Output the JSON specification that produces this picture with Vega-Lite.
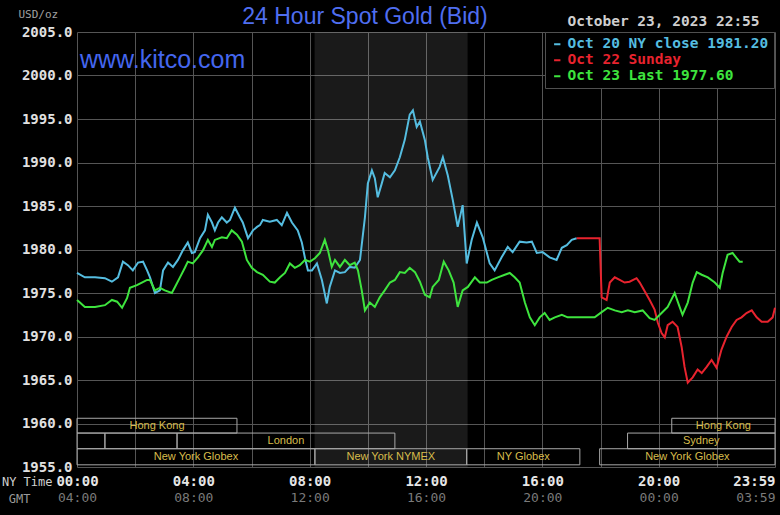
{
  "$schema": "https://vega.github.io/schema/vega-lite/v6.json",
  "width": 698,
  "height": 435,
  "autosize": "none",
  "padding": {"left": 77, "top": 32, "right": 5, "bottom": 48},
  "background": "#000000",
  "config": {
    "view": {"stroke": null},
    "axis": {"domain": false, "ticks": false, "gridColor": "#555555", "gridWidth": 1, "gridOpacity": 1}
  },
  "title": {
    "text": "24 Hour Spot Gold (Bid)",
    "font": "Liberation Sans",
    "fontSize": 23,
    "fontWeight": "normal",
    "color": "#4f6ef0",
    "anchor": "middle",
    "dx": -61,
    "dy": 27,
    "offset": 6
  },
  "datasets": {
    "prices": [
      {"s":"Oct 20","h":0.0,"p":1977.3},{"s":"Oct 20","h":0.27,"p":1976.8},{"s":"Oct 20","h":0.62,"p":1976.8},{"s":"Oct 20","h":0.96,"p":1976.7},{"s":"Oct 20","h":1.2,"p":1976.3},{"s":"Oct 20","h":1.41,"p":1976.8},{"s":"Oct 20","h":1.58,"p":1978.6},{"s":"Oct 20","h":1.75,"p":1978.2},{"s":"Oct 20","h":1.92,"p":1977.6},{"s":"Oct 20","h":2.1,"p":1978.5},{"s":"Oct 20","h":2.27,"p":1978.6},{"s":"Oct 20","h":2.41,"p":1977.6},{"s":"Oct 20","h":2.51,"p":1976.8},{"s":"Oct 20","h":2.68,"p":1975.0},{"s":"Oct 20","h":2.85,"p":1975.3},{"s":"Oct 20","h":2.96,"p":1977.6},{"s":"Oct 20","h":3.13,"p":1978.5},{"s":"Oct 20","h":3.3,"p":1978.0},{"s":"Oct 20","h":3.47,"p":1978.8},{"s":"Oct 20","h":3.64,"p":1979.9},{"s":"Oct 20","h":3.81,"p":1980.8},{"s":"Oct 20","h":3.95,"p":1979.6},{"s":"Oct 20","h":4.05,"p":1979.7},{"s":"Oct 20","h":4.23,"p":1981.3},{"s":"Oct 20","h":4.4,"p":1982.2},{"s":"Oct 20","h":4.5,"p":1984.0},{"s":"Oct 20","h":4.64,"p":1983.1},{"s":"Oct 20","h":4.74,"p":1982.2},{"s":"Oct 20","h":4.85,"p":1983.1},{"s":"Oct 20","h":4.98,"p":1983.7},{"s":"Oct 20","h":5.15,"p":1983.1},{"s":"Oct 20","h":5.26,"p":1983.4},{"s":"Oct 20","h":5.43,"p":1984.8},{"s":"Oct 20","h":5.6,"p":1983.7},{"s":"Oct 20","h":5.7,"p":1983.1},{"s":"Oct 20","h":5.88,"p":1981.3},{"s":"Oct 20","h":6.05,"p":1982.2},{"s":"Oct 20","h":6.19,"p":1982.6},{"s":"Oct 20","h":6.29,"p":1982.8},{"s":"Oct 20","h":6.39,"p":1983.4},{"s":"Oct 20","h":6.63,"p":1983.2},{"s":"Oct 20","h":6.87,"p":1983.4},{"s":"Oct 20","h":7.04,"p":1982.8},{"s":"Oct 20","h":7.22,"p":1984.2},{"s":"Oct 20","h":7.39,"p":1983.1},{"s":"Oct 20","h":7.59,"p":1982.2},{"s":"Oct 20","h":7.73,"p":1980.8},{"s":"Oct 20","h":7.84,"p":1979.0},{"s":"Oct 20","h":7.94,"p":1977.6},{"s":"Oct 20","h":8.08,"p":1977.6},{"s":"Oct 20","h":8.25,"p":1978.4},{"s":"Oct 20","h":8.42,"p":1976.5},{"s":"Oct 20","h":8.59,"p":1973.8},{"s":"Oct 20","h":8.69,"p":1975.7},{"s":"Oct 20","h":8.87,"p":1977.6},{"s":"Oct 20","h":9.04,"p":1977.3},{"s":"Oct 20","h":9.21,"p":1977.4},{"s":"Oct 20","h":9.38,"p":1978.0},{"s":"Oct 20","h":9.55,"p":1977.9},{"s":"Oct 20","h":9.73,"p":1978.8},{"s":"Oct 20","h":9.9,"p":1983.7},{"s":"Oct 20","h":10.0,"p":1987.6},{"s":"Oct 20","h":10.14,"p":1989.1},{"s":"Oct 20","h":10.24,"p":1988.2},{"s":"Oct 20","h":10.34,"p":1986.0},{"s":"Oct 20","h":10.48,"p":1987.6},{"s":"Oct 20","h":10.58,"p":1988.8},{"s":"Oct 20","h":10.76,"p":1988.3},{"s":"Oct 20","h":10.93,"p":1989.1},{"s":"Oct 20","h":11.1,"p":1990.6},{"s":"Oct 20","h":11.27,"p":1992.6},{"s":"Oct 20","h":11.44,"p":1995.5},{"s":"Oct 20","h":11.55,"p":1996.0},{"s":"Oct 20","h":11.68,"p":1994.1},{"s":"Oct 20","h":11.79,"p":1994.7},{"s":"Oct 20","h":11.96,"p":1992.6},{"s":"Oct 20","h":12.06,"p":1990.6},{"s":"Oct 20","h":12.23,"p":1988.0},{"s":"Oct 20","h":12.47,"p":1989.5},{"s":"Oct 20","h":12.58,"p":1990.6},{"s":"Oct 20","h":12.75,"p":1988.5},{"s":"Oct 20","h":12.92,"p":1985.7},{"s":"Oct 20","h":13.09,"p":1982.6},{"s":"Oct 20","h":13.26,"p":1985.1},{"s":"Oct 20","h":13.4,"p":1978.4},{"s":"Oct 20","h":13.57,"p":1981.1},{"s":"Oct 20","h":13.75,"p":1983.1},{"s":"Oct 20","h":13.95,"p":1981.4},{"s":"Oct 20","h":14.19,"p":1978.4},{"s":"Oct 20","h":14.36,"p":1977.6},{"s":"Oct 20","h":14.6,"p":1979.1},{"s":"Oct 20","h":14.81,"p":1980.3},{"s":"Oct 20","h":14.98,"p":1979.7},{"s":"Oct 20","h":15.22,"p":1980.9},{"s":"Oct 20","h":15.46,"p":1980.8},{"s":"Oct 20","h":15.64,"p":1980.9},{"s":"Oct 20","h":15.81,"p":1979.6},{"s":"Oct 20","h":16.01,"p":1979.7},{"s":"Oct 20","h":16.25,"p":1979.1},{"s":"Oct 20","h":16.49,"p":1978.8},{"s":"Oct 20","h":16.67,"p":1980.2},{"s":"Oct 20","h":16.84,"p":1980.5},{"s":"Oct 20","h":17.01,"p":1981.1},{"s":"Oct 20","h":17.18,"p":1981.3},
      {"s":"Oct 22","h":17.18,"p":1981.3},{"s":"Oct 22","h":17.97,"p":1981.3},{"s":"Oct 22","h":18.04,"p":1974.5},{"s":"Oct 22","h":18.21,"p":1974.2},{"s":"Oct 22","h":18.32,"p":1976.2},{"s":"Oct 22","h":18.49,"p":1976.8},{"s":"Oct 22","h":18.66,"p":1976.5},{"s":"Oct 22","h":18.83,"p":1976.2},{"s":"Oct 22","h":19.0,"p":1976.3},{"s":"Oct 22","h":19.24,"p":1976.7},{"s":"Oct 22","h":19.35,"p":1976.2},{"s":"Oct 22","h":19.52,"p":1975.2},{"s":"Oct 22","h":19.69,"p":1974.2},{"s":"Oct 22","h":19.86,"p":1973.1},{"s":"Oct 22","h":19.97,"p":1971.6},{"s":"Oct 22","h":20.1,"p":1970.4},{"s":"Oct 22","h":20.21,"p":1969.9},{"s":"Oct 22","h":20.31,"p":1971.3},{"s":"Oct 22","h":20.48,"p":1971.7},{"s":"Oct 22","h":20.65,"p":1971.1},{"s":"Oct 22","h":20.79,"p":1968.8},{"s":"Oct 22","h":20.89,"p":1966.5},{"s":"Oct 22","h":21.0,"p":1964.7},{"s":"Oct 22","h":21.17,"p":1965.3},{"s":"Oct 22","h":21.34,"p":1966.2},{"s":"Oct 22","h":21.48,"p":1965.8},{"s":"Oct 22","h":21.65,"p":1966.5},{"s":"Oct 22","h":21.82,"p":1967.3},{"s":"Oct 22","h":21.99,"p":1966.4},{"s":"Oct 22","h":22.16,"p":1968.5},{"s":"Oct 22","h":22.34,"p":1970.0},{"s":"Oct 22","h":22.51,"p":1971.1},{"s":"Oct 22","h":22.68,"p":1971.9},{"s":"Oct 22","h":22.85,"p":1972.2},{"s":"Oct 22","h":23.02,"p":1972.7},{"s":"Oct 22","h":23.2,"p":1973.0},{"s":"Oct 22","h":23.37,"p":1972.2},{"s":"Oct 22","h":23.54,"p":1971.7},{"s":"Oct 22","h":23.75,"p":1971.7},{"s":"Oct 22","h":23.92,"p":1972.2},{"s":"Oct 22","h":24.0,"p":1973.3},
      {"s":"Oct 23","h":0.0,"p":1974.2},{"s":"Oct 23","h":0.1,"p":1973.9},{"s":"Oct 23","h":0.27,"p":1973.4},{"s":"Oct 23","h":0.62,"p":1973.4},{"s":"Oct 23","h":0.96,"p":1973.6},{"s":"Oct 23","h":1.2,"p":1974.2},{"s":"Oct 23","h":1.38,"p":1974.0},{"s":"Oct 23","h":1.55,"p":1973.3},{"s":"Oct 23","h":1.72,"p":1974.4},{"s":"Oct 23","h":1.82,"p":1975.6},{"s":"Oct 23","h":2.06,"p":1975.9},{"s":"Oct 23","h":2.23,"p":1976.2},{"s":"Oct 23","h":2.41,"p":1976.5},{"s":"Oct 23","h":2.51,"p":1976.5},{"s":"Oct 23","h":2.68,"p":1975.3},{"s":"Oct 23","h":2.85,"p":1975.6},{"s":"Oct 23","h":3.02,"p":1975.3},{"s":"Oct 23","h":3.26,"p":1975.0},{"s":"Oct 23","h":3.37,"p":1975.7},{"s":"Oct 23","h":3.54,"p":1976.8},{"s":"Oct 23","h":3.71,"p":1977.9},{"s":"Oct 23","h":3.81,"p":1978.6},{"s":"Oct 23","h":3.98,"p":1978.4},{"s":"Oct 23","h":4.16,"p":1979.1},{"s":"Oct 23","h":4.33,"p":1979.9},{"s":"Oct 23","h":4.5,"p":1981.1},{"s":"Oct 23","h":4.64,"p":1980.3},{"s":"Oct 23","h":4.74,"p":1981.1},{"s":"Oct 23","h":4.98,"p":1981.4},{"s":"Oct 23","h":5.15,"p":1981.3},{"s":"Oct 23","h":5.32,"p":1982.2},{"s":"Oct 23","h":5.5,"p":1981.7},{"s":"Oct 23","h":5.67,"p":1980.9},{"s":"Oct 23","h":5.84,"p":1978.8},{"s":"Oct 23","h":6.01,"p":1977.9},{"s":"Oct 23","h":6.19,"p":1977.4},{"s":"Oct 23","h":6.39,"p":1977.1},{"s":"Oct 23","h":6.63,"p":1976.3},{"s":"Oct 23","h":6.8,"p":1976.2},{"s":"Oct 23","h":6.98,"p":1976.8},{"s":"Oct 23","h":7.15,"p":1977.3},{"s":"Oct 23","h":7.32,"p":1978.4},{"s":"Oct 23","h":7.49,"p":1977.9},{"s":"Oct 23","h":7.66,"p":1978.2},{"s":"Oct 23","h":7.84,"p":1978.8},{"s":"Oct 23","h":8.01,"p":1978.6},{"s":"Oct 23","h":8.18,"p":1979.0},{"s":"Oct 23","h":8.35,"p":1979.6},{"s":"Oct 23","h":8.52,"p":1981.1},{"s":"Oct 23","h":8.63,"p":1979.9},{"s":"Oct 23","h":8.76,"p":1978.0},{"s":"Oct 23","h":8.87,"p":1978.8},{"s":"Oct 23","h":9.04,"p":1978.0},{"s":"Oct 23","h":9.21,"p":1978.8},{"s":"Oct 23","h":9.38,"p":1978.2},{"s":"Oct 23","h":9.55,"p":1978.5},{"s":"Oct 23","h":9.66,"p":1977.6},{"s":"Oct 23","h":9.79,"p":1975.3},{"s":"Oct 23","h":9.9,"p":1973.0},{"s":"Oct 23","h":10.07,"p":1973.9},{"s":"Oct 23","h":10.24,"p":1973.4},{"s":"Oct 23","h":10.41,"p":1974.5},{"s":"Oct 23","h":10.58,"p":1975.3},{"s":"Oct 23","h":10.76,"p":1976.2},{"s":"Oct 23","h":10.93,"p":1976.5},{"s":"Oct 23","h":11.1,"p":1977.4},{"s":"Oct 23","h":11.27,"p":1977.3},{"s":"Oct 23","h":11.44,"p":1977.9},{"s":"Oct 23","h":11.62,"p":1977.4},{"s":"Oct 23","h":11.79,"p":1976.3},{"s":"Oct 23","h":11.96,"p":1974.8},{"s":"Oct 23","h":12.13,"p":1974.5},{"s":"Oct 23","h":12.23,"p":1975.7},{"s":"Oct 23","h":12.44,"p":1976.5},{"s":"Oct 23","h":12.61,"p":1978.6},{"s":"Oct 23","h":12.78,"p":1977.6},{"s":"Oct 23","h":12.95,"p":1976.2},{"s":"Oct 23","h":13.09,"p":1973.4},{"s":"Oct 23","h":13.26,"p":1975.3},{"s":"Oct 23","h":13.44,"p":1975.7},{"s":"Oct 23","h":13.68,"p":1976.8},{"s":"Oct 23","h":13.85,"p":1976.2},{"s":"Oct 23","h":14.09,"p":1976.2},{"s":"Oct 23","h":14.26,"p":1976.5},{"s":"Oct 23","h":14.47,"p":1976.8},{"s":"Oct 23","h":14.71,"p":1977.1},{"s":"Oct 23","h":14.88,"p":1977.3},{"s":"Oct 23","h":15.05,"p":1976.8},{"s":"Oct 23","h":15.22,"p":1976.2},{"s":"Oct 23","h":15.4,"p":1973.9},{"s":"Oct 23","h":15.57,"p":1972.2},{"s":"Oct 23","h":15.74,"p":1971.3},{"s":"Oct 23","h":15.91,"p":1972.2},{"s":"Oct 23","h":16.08,"p":1972.7},{"s":"Oct 23","h":16.25,"p":1971.9},{"s":"Oct 23","h":16.43,"p":1972.2},{"s":"Oct 23","h":16.67,"p":1972.5},{"s":"Oct 23","h":16.87,"p":1972.2},{"s":"Oct 23","h":17.22,"p":1972.2},{"s":"Oct 23","h":17.7,"p":1972.2},{"s":"Oct 23","h":17.8,"p":1972.2},{"s":"Oct 23","h":18.04,"p":1972.8},{"s":"Oct 23","h":18.25,"p":1973.3},{"s":"Oct 23","h":18.49,"p":1973.0},{"s":"Oct 23","h":18.73,"p":1972.8},{"s":"Oct 23","h":18.94,"p":1973.0},{"s":"Oct 23","h":19.18,"p":1972.8},{"s":"Oct 23","h":19.45,"p":1973.0},{"s":"Oct 23","h":19.69,"p":1972.1},{"s":"Oct 23","h":19.86,"p":1971.9},{"s":"Oct 23","h":20.1,"p":1972.7},{"s":"Oct 23","h":20.31,"p":1973.4},{"s":"Oct 23","h":20.55,"p":1975.0},{"s":"Oct 23","h":20.72,"p":1973.4},{"s":"Oct 23","h":20.82,"p":1972.5},{"s":"Oct 23","h":21.0,"p":1973.9},{"s":"Oct 23","h":21.17,"p":1976.2},{"s":"Oct 23","h":21.31,"p":1977.4},{"s":"Oct 23","h":21.48,"p":1977.1},{"s":"Oct 23","h":21.69,"p":1976.8},{"s":"Oct 23","h":21.93,"p":1976.2},{"s":"Oct 23","h":22.1,"p":1975.6},{"s":"Oct 23","h":22.2,"p":1977.3},{"s":"Oct 23","h":22.37,"p":1979.4},{"s":"Oct 23","h":22.54,"p":1979.6},{"s":"Oct 23","h":22.68,"p":1979.0},{"s":"Oct 23","h":22.78,"p":1978.6},{"s":"Oct 23","h":22.89,"p":1978.6}
    ],
    "sessions": [
      {"name":"Hong Kong","start":0,"end":5.5,"lo":1958.9,"hi":1960.6},
      {"name":"Hong Kong","start":20.45,"end":24,"lo":1958.9,"hi":1960.6},
      {"name":"","start":0,"end":0.96,"lo":1957.1,"hi":1958.9},
      {"name":"","start":0.96,"end":3.44,"lo":1957.1,"hi":1958.9},
      {"name":"London","start":3.44,"end":10.93,"lo":1957.1,"hi":1958.9},
      {"name":"Sydney","start":18.93,"end":24,"lo":1957.1,"hi":1958.9},
      {"name":"New York Globex","start":0,"end":8.18,"lo":1955.25,"hi":1957.1},
      {"name":"New York NYMEX","start":8.18,"end":13.4,"lo":1955.25,"hi":1957.1},
      {"name":"NY Globex","start":13.4,"end":17.29,"lo":1955.25,"hi":1957.1},
      {"name":"New York Globex","start":17.97,"end":24,"lo":1955.25,"hi":1957.1}
    ]
  },
  "resolve": {"axis": {"x": "independent"}},
  "layer": [
    {
      "data": {"values": [{"start": 8.17, "end": 13.43}]},
      "mark": {"type": "rect", "fill": "#ffffff", "opacity": 0.1},
      "encoding": {
        "x": {
          "field": "start", "type": "quantitative",
          "scale": {"domain": [0, 24], "nice": false, "zero": false},
          "axis": {
            "orient": "bottom",
            "values": [0,2,4,6,8,10,12,14,16,18,20,22,24],
            "grid": true,
            "labelExpr": "datum.value % 4 != 0 ? '' : (datum.value >= 24 ? '23:59' : (datum.value < 10 ? '0' : '') + datum.value + ':00')",
            "labelAlign": {"condition": {"test": "datum.value >= 24", "value": "right"}, "value": "center"},
            "labelFont": "DejaVu Sans Mono",
            "labelFontSize": 14,
            "labelFontWeight": "bold",
            "labelColor": "#e6e6e6",
            "labelPadding": 7,
            "labelOverlap": false,
            "title": "NY Time",
            "titleFont": "DejaVu Sans Mono",
            "titleFontSize": 12,
            "titleFontWeight": "normal",
            "titleColor": "#d0d0d0",
            "titleAlign": "right",
            "titleAnchor": null,
            "titleX": -25,
            "titleY": 14,
            "titleBaseline": "middle"
          }
        },
        "x2": {"field": "end"}
      }
    },
    {
      "data": {"name": "sessions"},
      "mark": {"type": "rect", "fillOpacity": 0, "stroke": "#a8a8a8", "strokeWidth": 1},
      "encoding": {
        "x": {"field": "start", "type": "quantitative", "axis": null},
        "x2": {"field": "end"},
        "y": {"field": "lo", "type": "quantitative"},
        "y2": {"field": "hi"}
      }
    },
    {
      "data": {"name": "sessions"},
      "transform": [
        {"calculate": "(datum.start + datum.end) / 2", "as": "mid"},
        {"calculate": "(datum.lo + datum.hi) / 2", "as": "ymid"}
      ],
      "mark": {"type": "text", "font": "Liberation Sans", "fontSize": 11, "color": "#d8bd4c", "align": "center", "baseline": "middle"},
      "encoding": {
        "x": {
          "field": "mid", "type": "quantitative",
          "axis": {
            "orient": "bottom",
            "offset": 17,
            "grid": false,
            "values": [0,4,8,12,16,20,24],
            "labelExpr": "datum.value >= 24 ? '03:59' : ((datum.value + 4) % 24 < 10 ? '0' : '') + ((datum.value + 4) % 24) + ':00'",
            "labelAlign": {"condition": {"test": "datum.value >= 24", "value": "right"}, "value": "center"},
            "labelFont": "DejaVu Sans Mono",
            "labelFontSize": 13,
            "labelColor": "#7a7a7a",
            "labelPadding": 7,
            "labelOverlap": false,
            "title": "GMT",
            "titleFont": "DejaVu Sans Mono",
            "titleFontSize": 12,
            "titleFontWeight": "normal",
            "titleColor": "#9a9a9a",
            "titleAlign": "right",
            "titleAnchor": null,
            "titleX": -47,
            "titleY": 14,
            "titleBaseline": "middle"
          }
        },
        "y": {"field": "ymid", "type": "quantitative"},
        "text": {"field": "name"}
      }
    },
    {
      "data": {"name": "prices"},
      "mark": {"type": "line", "strokeWidth": 2, "interpolate": "linear"},
      "encoding": {
        "x": {"field": "h", "type": "quantitative", "axis": null},
        "y": {
          "field": "p", "type": "quantitative",
          "scale": {"domain": [1955, 2005], "nice": false, "zero": false},
          "axis": {
            "values": [1955,1960,1965,1970,1975,1980,1985,1990,1995,2000,2005],
            "format": ".1f",
            "grid": true,
            "labelFont": "DejaVu Sans Mono",
            "labelFontSize": 14,
            "labelFontWeight": "bold",
            "labelColor": "#e0e0e0",
            "labelPadding": 5,
            "labelOverlap": false,
            "title": "USD/oz",
            "titleAngle": 0,
            "titleFont": "DejaVu Sans Mono",
            "titleFontSize": 11,
            "titleFontWeight": "normal",
            "titleColor": "#a0a0a0",
            "titleAlign": "left",
            "titleAnchor": null,
            "titleX": -59,
            "titleY": -18,
            "titleBaseline": "middle"
          }
        },
        "color": {
          "field": "s", "type": "nominal",
          "scale": {"domain": ["Oct 20", "Oct 22", "Oct 23"], "range": ["#55bde0", "#e8232e", "#3ee43e"]},
          "legend": {
            "orient": "none",
            "legendX": 468,
            "legendY": 0,
            "title": null,
            "labelExpr": "datum.label == 'Oct 20' ? 'Oct 20 NY close 1981.20' : (datum.label == 'Oct 22' ? 'Oct 22 Sunday' : 'Oct 23 Last 1977.60')",
            "labelFont": "DejaVu Sans Mono",
            "labelFontSize": 14.5,
            "labelFontWeight": "bold",
            "labelLimit": 300,
            "labelOffset": 3,
            "symbolType": "stroke",
            "symbolSize": 40,
            "symbolStrokeWidth": 2,
            "rowPadding": 1,
            "padding": 5,
            "fillColor": "#000000",
            "strokeColor": "#505050",
            "encode": {
              "labels": {"update": {"fill": {"signal": "scale('color', datum.value)"}}},
              "symbols": {"update": {"stroke": {"value": "#c8c8c8"}}}
            }
          }
        }
      }
    },
    {
      "data": {"values": [{"t": "www.kitco.com", "h": 0.1, "p": 2001.8}]},
      "mark": {"type": "text", "font": "Liberation Sans", "fontSize": 25, "color": "#4466ee", "align": "left", "baseline": "middle"},
      "encoding": {
        "x": {"field": "h", "type": "quantitative", "axis": null},
        "y": {"field": "p", "type": "quantitative"},
        "text": {"field": "t"}
      }
    },
    {
      "data": {"values": [{"t": "October 23, 2023 22:55", "h": 23.47, "p": 2006.2}]},
      "mark": {"type": "text", "font": "DejaVu Sans Mono", "fontSize": 14.5, "fontWeight": "bold", "color": "#cfcfcf", "align": "right", "baseline": "middle", "clip": false},
      "encoding": {
        "x": {"field": "h", "type": "quantitative", "axis": null},
        "y": {"field": "p", "type": "quantitative"},
        "text": {"field": "t"}
      }
    }
  ]
}
